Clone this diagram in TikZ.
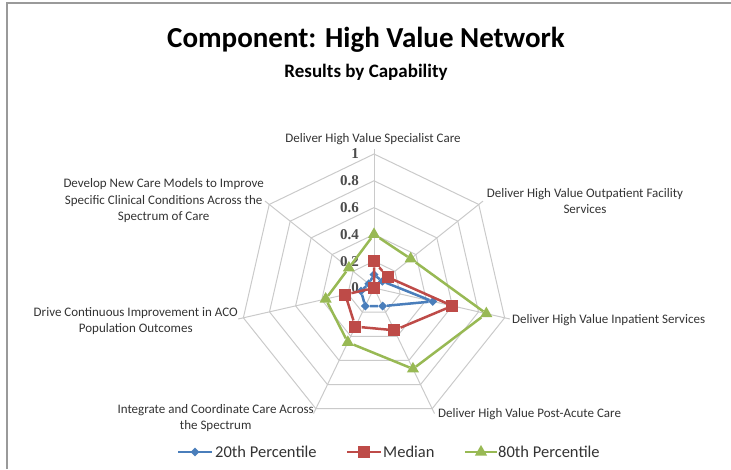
\documentclass[tikz,border=0pt]{standalone}
\usepackage{fontspec}
\setmainfont{Carlito}
\newfontfamily\tickfont{Liberation Serif}
\usepackage{tikz}
\usetikzlibrary{shapes.geometric}
\definecolor{serblue}{HTML}{4A7EBB}
\definecolor{serred}{HTML}{BE4B48}
\definecolor{sergreen}{HTML}{98B954}
\definecolor{gridgray}{HTML}{CACACA}
\definecolor{framegray}{HTML}{9A9A9A}

\begin{document}
\begin{tikzpicture}
[x=1pt,y=1pt,
gridline/.style={draw=gridgray,line width=1pt},
catlabel/.style={font=\fontsize{13}{16.5}\selectfont,text=black!80,align=center,inner sep=0pt},
ticklabel/.style={font=\tickfont\bfseries\fontsize{15}{17}\selectfont,text=black!70,anchor=east,inner sep=0pt,xshift=-15pt},
legtext/.style={font=\fontsize{16.5}{18}\selectfont,text=black!80,anchor=west,inner sep=0pt},
bluedia/.style={diamond,fill=serblue,inner sep=0pt,minimum size=9pt},
redsq/.style={rectangle,fill=serred,inner sep=0pt,minimum size=12pt},
greentri/.style={regular polygon,regular polygon sides=3,fill=sergreen,inner sep=0pt,minimum size=14pt},
blueline/.style={draw=serblue,line width=2.5pt},
redline/.style={draw=serred,line width=2.5pt},
greenline/.style={draw=sergreen,line width=2.5pt}]
\useasboundingbox (0,0) rectangle (731,469);

% frame
\draw [framegray,line width=2pt] (7,0) -- (7,466) -- (731,466);

\node[font=\bfseries\fontsize{29}{34}\selectfont] (title) at (366,429) {Component: High Value Network};
\node[font=\bfseries\fontsize{19}{22}\selectfont] (subtitle) at (366,397) {Results by Capability};

\begin{scope}[shift={(374,181)},x=134pt,y=134pt]
% grid
\foreach \r in {0.2,0.4,0.6,0.8,1}
  \draw [gridline] (90:\r) -- (38.571:\r) -- (-12.857:\r) -- (-64.286:\r) -- (-115.714:\r) -- (-167.143:\r) -- (141.429:\r) -- cycle;
\foreach \a in {90,38.571,-12.857,-64.286,-115.714,-167.143,141.429}
  \draw [gridline] (0,0) -- (\a:1.04);

\node[ticklabel] (t0) at (90:0) {0};
\node[ticklabel] (t2) at (90:0.2) {0.2};
\node[ticklabel] (t4) at (90:0.4) {0.4};
\node[ticklabel] (t6) at (90:0.6) {0.6};
\node[ticklabel] (t8) at (90:0.8) {0.8};
\node[ticklabel] (t10) at (90:1) {1};

% 20th percentile
\node[bluedia] (b0) at (90:0.10) {};
\node[bluedia] (b1) at (38.571:0.08) {};
\node[bluedia] (b2) at (-12.857:0.45) {};
\node[bluedia] (b3) at (-64.286:0.15) {};
\node[bluedia] (b4) at (-115.714:0.15) {};
\node[bluedia] (b5) at (-167.143:0.10) {};
\node[bluedia] (b6) at (141.429:0.05) {};
\draw [blueline] (b0) -- (b1) -- (b2) -- (b3) -- (b4) -- (b5) -- (b6) -- (b0);

% median
\node[redsq] (m0) at (90:0.20) {};
\node[redsq] (m1) at (38.571:0.13) {};
\node[redsq] (m2) at (-12.857:0.60) {};
\node[redsq] (m3) at (-64.286:0.35) {};
\node[redsq] (m4) at (-115.714:0.32) {};
\node[redsq] (m5) at (-167.143:0.22) {};
\node[redsq] (m6) at (141.429:0) {};
\draw [redline] (m0) -- (m1) -- (m2) -- (m3) -- (m4) -- (m5) -- (m6) -- (m0);

% 80th percentile
\node[greentri] (g0) at (90:0.40) {};
\node[greentri] (g1) at (38.571:0.35) {};
\node[greentri] (g2) at (-12.857:0.86) {};
\node[greentri] (g3) at (-64.286:0.67) {};
\node[greentri] (g4) at (-115.714:0.45) {};
\node[greentri] (g5) at (-167.143:0.37) {};
\node[greentri] (g6) at (141.429:0.24) {};
\draw [greenline] (g0) -- (g1) -- (g2) -- (g3) -- (g4) -- (g5) -- (g6) -- (g0);
\end{scope}

% category labels
\node[catlabel] (specialist) at (373,330) {Deliver High Value Specialist Care};
\node[catlabel] (outpatient) at (585,268) {Deliver High Value Outpatient Facility\\Services};
\node[catlabel,anchor=west] (inpatient) at (512,149) {Deliver High Value Inpatient Services};
\node[catlabel,anchor=west] (postacute) at (438,55) {Deliver High Value Post-Acute Care};
\node[catlabel,anchor=east] (integrate) at (314,51) {Integrate and Coordinate Care Across\\the Spectrum};
\node[catlabel,anchor=east] (drive) at (238,148) {Drive Continuous Improvement in ACO\\Population Outcomes};
\node[catlabel,anchor=east] (develop) at (264,268) {Develop New Care Models to Improve\\Specific Clinical Conditions Across the\\Spectrum of Care};

% legend
\coordinate (l1a) at (178,17);
\coordinate (l1b) at (212,17);
\draw [blueline] (l1a) -- (l1b);
\node[bluedia] (l1m) at (195,17) {};
\node[legtext] (l1t) at (215,17) {20th Percentile};
\coordinate (l2a) at (347,17);
\coordinate (l2b) at (381,17);
\draw [redline] (l2a) -- (l2b);
\node[redsq] (l2m) at (364,17) {};
\node[legtext] (l2t) at (383,17) {Median};
\coordinate (l3a) at (465,17);
\coordinate (l3b) at (497,17);
\draw [greenline] (l3a) -- (l3b);
\node[greentri] (l3m) at (481,17) {};
\node[legtext] (l3t) at (498,17) {80th Percentile};
\end{tikzpicture}
\end{document}
